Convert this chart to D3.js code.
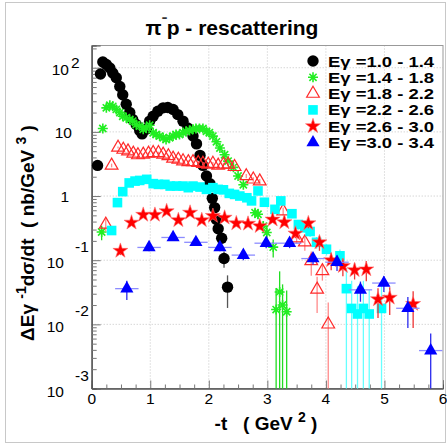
<!DOCTYPE html>
<html>
<head>
<meta charset="utf-8">
<script src="https://cdn.jsdelivr.net/npm/d3@7"></script>
<style>
  body { margin: 0; background: #fff; }
  svg { font-family: "Liberation Sans", Arial, sans-serif; }
</style>
</head>
<body>
<div id="chart"></div>
<script>
// Eγ = 1.0 - 1.4 (black circles)
const blackT = [0.10, 0.15, 0.19, 0.25, 0.31, 0.36, 0.42, 0.48, 0.53, 0.59, 0.65, 0.70, 0.76, 0.82, 0.86, 0.93, 0.99, 1.05, 1.13, 1.22, 1.30, 1.39, 1.47, 1.56, 1.64, 1.73, 1.79, 1.85, 1.90, 1.96, 2.02, 2.06, 2.10, 2.13, 2.16, 2.22, 2.26, 2.32];
const blackV = [3.0, 80, 123, 112, 99, 83, 70, 51, 38, 27, 20, 15.6, 13, 10.5, 9.3, 11, 14.7, 17.5, 21, 23.7, 24, 22.3, 18.6, 14.7, 11.5, 8.6, 6.5, 4.3, 3.0, 2.05, 1.55, 0.92, 0.66, 0.43, 0.31, 0.22, 0.106, 0.038];
const blackE = [0.2, 2, 3, 3, 3, 2, 2, 2, 1.5, 1, 1, 0.8, 0.6, 0.5, 0.5, 0.5, 0.6, 0.7, 0.8, 0.9, 0.9, 0.9, 0.8, 0.7, 0.6, 0.4, 0.3, 0.2, 0.15, 0.1, 0.1, 0.06, 0.05, 0.04, 0.04, 0.03, 0.03, 0.02];

// Eγ = 1.4 - 1.8 (green asterisks)
const greenT = [0.17, 0.19, 0.25, 0.31, 0.36, 0.42, 0.48, 0.53, 0.59, 0.65, 0.70, 0.76, 0.82, 0.88, 0.93, 0.99, 1.05, 1.10, 1.16, 1.22, 1.27, 1.33, 1.39, 1.44, 1.50, 1.56, 1.61, 1.67, 1.73, 1.78, 1.84, 1.90, 1.96, 2.01, 2.07, 2.13, 2.19, 2.27, 2.33, 2.42, 2.50, 2.59, 2.79, 2.84, 2.93, 2.99, 3.10, 3.15, 3.21, 3.26, 3.33];
const greenV = [0.275, 11.3, 23.7, 26, 25, 22.4, 20, 17.5, 16.6, 15.6, 14.7, 13, 12.3, 11, 11.5, 12.7, 9.7, 9.1, 8.6, 8.1, 7.6, 8.1, 8.6, 9.1, 9.1, 9.7, 10.2, 10.5, 11, 11.3, 11.3, 11.3, 10.2, 9.7, 8.6, 7.0, 5.6, 4.4, 3.5, 2.8, 2.05, 1.5, 0.55, 0.52, 0.34, 0.27, 0.16, 0.017, 0.032, 0.020, 0.0157];
const greenE = [0.07, 1, 1, 1, 1, 1, 0.8, 0.7, 0.6, 0.6, 0.5, 0.5, 0.5, 0.4, 0.4, 0.5, 0.4, 0.4, 0.4, 0.4, 0.4, 0.4, 0.4, 0.4, 0.4, 0.4, 0.4, 0.4, 0.4, 0.4, 0.4, 0.4, 0.4, 0.4, 0.4, 0.3, 0.3, 0.3, 0.2, 0.2, 0.15, 0.1, 0.08, 0.08, 0.06, 0.06, 0.05, 0.02, 0.035, 0.022, 0.018];

// Eγ = 1.8 - 2.2 (red open triangles)
const redTriT = [0.24, 0.34, 0.45, 0.54, 0.62, 0.71, 0.79, 0.88, 0.97, 1.05, 1.14, 1.22, 1.31, 1.39, 1.48, 1.56, 1.65, 1.73, 1.82, 1.90, 1.99, 2.07, 2.16, 2.25, 2.33, 2.44, 2.64, 2.76, 2.87, 3.27, 3.50, 3.64, 3.75, 3.85, 3.94, 4.04];
const redTriV = [0.36, 3.0, 5.7, 5.3, 5.0, 4.6, 4.35, 4.45, 4.6, 4.7, 4.7, 4.45, 4.2, 3.85, 3.7, 3.5, 3.4, 3.4, 3.3, 3.2, 3.1, 3.2, 3.0, 3.1, 3.1, 2.85, 2.05, 1.82, 1.7, 0.58, 0.22, 0.19, 0.097, 0.035, 0.068, 0.010];
const redTriE = [0.08, 0.2, 0.2, 0.2, 0.2, 0.2, 0.2, 0.2, 0.2, 0.2, 0.2, 0.2, 0.2, 0.2, 0.2, 0.2, 0.2, 0.2, 0.2, 0.2, 0.2, 0.2, 0.2, 0.2, 0.2, 0.2, 0.15, 0.15, 0.15, 0.08, 0.04, 0.05, 0.04, 0.02, 0.02, 0.012];

// Eγ = 2.2 - 2.6 (cyan squares)
const cyanT = [0.34, 0.44, 0.53, 0.64, 0.74, 0.82, 0.94, 1.05, 1.14, 1.25, 1.34, 1.45, 1.56, 1.65, 1.73, 1.85, 1.96, 2.07, 2.16, 2.25, 2.35, 2.44, 2.53, 2.65, 2.73, 2.84, 2.95, 3.13, 3.23, 3.42, 3.53, 3.64, 3.73, 3.84, 4.01, 4.24, 4.35, 4.44, 4.54, 4.64, 4.74, 4.95];
const cyanV = [0.29, 0.79, 1.17, 1.6, 1.71, 1.75, 1.82, 1.56, 1.52, 1.52, 1.43, 1.43, 1.43, 1.35, 1.43, 1.38, 1.27, 1.35, 1.27, 1.25, 1.1, 1.06, 1.0, 0.94, 0.84, 1.2, 0.8, 0.62, 0.84, 0.53, 0.36, 0.32, 0.28, 0.19, 0.148, 0.117, 0.036, 0.0177, 0.0145, 0.0177, 0.0145, 0.0177];
const cyanE = [0.04, 0.06, 0.08, 0.1, 0.1, 0.1, 0.1, 0.1, 0.1, 0.1, 0.1, 0.1, 0.1, 0.1, 0.1, 0.1, 0.1, 0.1, 0.1, 0.1, 0.1, 0.1, 0.1, 0.1, 0.1, 0.1, 0.1, 0.08, 0.1, 0.08, 0.06, 0.05, 0.05, 0.04, 0.03, 0.03, 0.04, 0.03, 0.025, 0.03, 0.02, 0.025];

// Eγ = 2.6 - 3.0 (red stars)
const starT = [0.49, 0.68, 0.88, 1.08, 1.28, 1.48, 1.68, 1.88, 2.07, 2.27, 2.47, 2.67, 2.87, 3.09, 3.29, 3.48, 3.70, 3.89, 4.09, 4.29, 4.49, 4.69, 4.89, 5.09, 5.49];
const starV = [0.14, 0.385, 0.51, 0.51, 0.58, 0.42, 0.55, 0.42, 0.49, 0.46, 0.376, 0.37, 0.34, 0.43, 0.39, 0.26, 0.376, 0.19, 0.10, 0.081, 0.07, 0.072, 0.0246, 0.026, 0.0208];
const starE = [0.02, 0.04, 0.04, 0.04, 0.04, 0.04, 0.04, 0.04, 0.04, 0.04, 0.04, 0.04, 0.04, 0.05, 0.05, 0.04, 0.06, 0.05, 0.03, 0.025, 0.02, 0.025, 0.012, 0.012, 0.012];

// Eγ = 3.0 - 3.4 (blue triangles, bins of 0.4)
const blueT = [0.60, 0.98, 1.39, 1.78, 2.19, 2.59, 2.98, 3.38, 3.78, 4.19, 4.59, 4.99, 5.40, 5.79];
const blueV = [0.036, 0.158, 0.226, 0.19, 0.158, 0.12, 0.184, 0.184, 0.106, 0.093, 0.0345, 0.044, 0.0178, 0.0039];
const blueE = [0.012, 0.02, 0.025, 0.02, 0.02, 0.02, 0.03, 0.03, 0.02, 0.025, 0.012, 0.012, 0.009, 0.0033];
const blueHalfBin = 0.2;

const legendLabels = ['1.0 - 1.4', '1.4 - 1.8', '1.8 - 2.2', '2.2 - 2.6', '2.6 - 3.0', '3.0 - 3.4'];
const xTicks = [0, 1, 2, 3, 4, 5, 6];
const yExps = [-3, -2, -1, 0, 1, 2];

const width = 447;
const height = 444;

const x = d3.scaleLinear().domain([0, 6]).range([91.7, 443]);
const y = d3.scaleLog().domain([1e-3, 222]).range([388.5, 45.5]);
const yMin = 1e-3;

const svg = d3.select('#chart').append('svg')
  .attr('width', width)
  .attr('height', height);

// outer canvas border
svg.append('rect')
  .attr('x', 5.5).attr('y', 2.5)
  .attr('width', 440).attr('height', 440)
  .attr('fill', 'none').attr('stroke', '#c8c8c8');

// grid
const grid = svg.append('g')
  .attr('stroke', '#c4c4c4')
  .attr('stroke-dasharray', '1,2');
grid.selectAll('.gx').data(xTicks.slice(1, -1)).enter().append('line')
  .attr('x1', d => x(d)).attr('x2', d => x(d))
  .attr('y1', y.range()[0]).attr('y2', y.range()[1]);
grid.selectAll('.gy').data(yExps.slice(1)).enter().append('line')
  .attr('x1', x.range()[0]).attr('x2', x.range()[1])
  .attr('y1', d => y(Math.pow(10, d))).attr('y2', d => y(Math.pow(10, d)));

// frame
svg.append('rect')
  .attr('x', x.range()[0]).attr('y', y.range()[1])
  .attr('width', x.range()[1] - x.range()[0])
  .attr('height', y.range()[0] - y.range()[1])
  .attr('fill', 'none').attr('stroke', '#999');

// x axis: inward ticks
const xMinor = d3.range(0, 6.001, 0.25).filter(d => !xTicks.includes(d));
const xAxisG = svg.append('g').attr('transform', `translate(0,${y.range()[0]})`);
xAxisG.call(d3.axisBottom(x).tickValues(xTicks).tickSize(-8).tickFormat(''));
xAxisG.append('g').call(d3.axisBottom(x).tickValues(xMinor).tickSize(-4).tickFormat(''));
xAxisG.selectAll('.domain').attr('stroke', '#555');
xAxisG.selectAll('line').attr('stroke', '#777');

svg.append('g').selectAll('text').data(xTicks).enter().append('text')
  .attr('x', d => x(d)).attr('y', y.range()[0] + 15.5)
  .attr('text-anchor', 'middle')
  .attr('font-size', 15.5)
  .text(d => d);

// y axis
const yMinor = [];
yExps.slice(0, -1).forEach(e => {
  for (let k = 2; k <= 9; k++) yMinor.push(k * Math.pow(10, e));
});
yMinor.push(200);
const yAxisG = svg.append('g').attr('transform', `translate(${x.range()[0]},0)`);
yAxisG.call(d3.axisLeft(y).tickValues(yExps.map(e => Math.pow(10, e))).tickSize(-9).tickFormat(''));
yAxisG.append('g').call(d3.axisLeft(y).tickValues(yMinor).tickSize(-5).tickFormat(''));
yAxisG.selectAll('.domain').attr('stroke', '#555');
yAxisG.selectAll('line').attr('stroke', '#777');

const yLab = svg.append('g').attr('font-size', 15.5);
yExps.forEach(e => {
  const py = y(Math.pow(10, e));
  if (e === 0) {
    yLab.append('text').attr('x', 69).attr('y', py + 6).attr('text-anchor', 'end').text('1');
  } else if (e === 1) {
    yLab.append('text').attr('x', 72).attr('y', py + 6).attr('text-anchor', 'end').text('10');
  } else if (e > 1) {
    yLab.append('text').attr('x', 69).attr('y', py + 7).attr('text-anchor', 'end').text('10');
    yLab.append('text').attr('x', 71).attr('y', py).text(e);
  } else {
    yLab.append('text').attr('x', 64).attr('y', py + 8).attr('text-anchor', 'end').text('10');
    yLab.append('text').attr('x', 75).attr('y', py - 8).text(e);
  }
});

// titles
const title = svg.append('text')
  .attr('x', 232).attr('y', 35)
  .attr('text-anchor', 'middle')
  .attr('font-size', 21).attr('font-weight', 'bold');
title.append('tspan').text('π');
title.append('tspan').attr('dy', -8).attr('font-size', 15).text('⁻');
title.append('tspan').attr('dy', 8).text('p - rescattering');

const xTitle = svg.append('text')
  .attr('x', 266).attr('y', 430)
  .attr('text-anchor', 'middle')
  .attr('font-size', 19).attr('font-weight', 'bold')
  .attr('xml:space', 'preserve');
xTitle.append('tspan').text('-t   ( GeV ');
xTitle.append('tspan').attr('dy', -8).attr('font-size', 14).text('2');
xTitle.append('tspan').attr('dy', 8).text(' )');

const yTitle = svg.append('text')
  .attr('transform', 'translate(34,233) rotate(-90)')
  .attr('text-anchor', 'middle')
  .attr('font-size', 19).attr('font-weight', 'bold')
  .attr('xml:space', 'preserve');
yTitle.append('tspan').text('ΔEγ ');
yTitle.append('tspan').attr('dy', -8).attr('font-size', 14).text('-1');
yTitle.append('tspan').attr('dy', 8).text('dσ/dt  ( nb/GeV ');
yTitle.append('tspan').attr('dy', -8).attr('font-size', 14).text('3');
yTitle.append('tspan').attr('dy', 8).text(' )');

// markers
const asterisk = 'M-5,0L5,0M0,-5L0,5M-3.6,-3.6L3.6,3.6M-3.6,3.6L3.6,-3.6';
const series = [
  { t: blackT, v: blackV, e: blackE, bar: '#555', draw: g => g.append('circle').attr('r', 5.7).attr('fill', '#000') },
  { t: greenT, v: greenV, e: greenE, bar: '#22dd22', draw: g => g.append('path').attr('d', asterisk).attr('stroke', '#22ee22').attr('stroke-width', 1.6).attr('fill', 'none') },
  { t: redTriT, v: redTriV, e: redTriE, bar: '#ff8a8a', draw: g => g.append('path').attr('d', d3.symbol(d3.symbolTriangle, 70)()).attr('fill', 'none').attr('stroke', '#ff2a2a').attr('stroke-width', 1.2) },
  { t: cyanT, v: cyanV, e: cyanE, bar: '#66ffff', draw: g => g.append('rect').attr('x', -4.8).attr('y', -4.8).attr('width', 9.6).attr('height', 9.6).attr('fill', '#00ffff') },
  { t: starT, v: starV, e: starE, bar: '#ee3333', draw: g => g.append('path').attr('d', d3.symbol(d3.symbolStar, 70)()).attr('fill', '#ff0000').attr('stroke', '#ff7070').attr('stroke-width', 0.6) },
  { t: blueT, v: blueV, e: blueE, bar: '#2a2aee', hbar: '#8c8cff', draw: g => g.append('path').attr('d', d3.symbol(d3.symbolTriangle, 75)()).attr('fill', '#0000ff') }
];

series.forEach(s => {
  const g = svg.append('g');
  const pts = s.t.map((t, i) => ({ t: t, v: s.v[i], e: s.e[i] }));
  if (s.hbar) {
    g.selectAll('.hb').data(pts).enter().append('line')
      .attr('x1', d => x(d.t - blueHalfBin)).attr('x2', d => x(d.t + blueHalfBin))
      .attr('y1', d => y(d.v)).attr('y2', d => y(d.v))
      .attr('stroke', s.hbar).attr('stroke-width', 1.3);
  }
  g.selectAll('.vb').data(pts).enter().append('line')
    .attr('x1', d => x(d.t)).attr('x2', d => x(d.t))
    .attr('y1', d => y(Math.max(d.v - d.e, yMin)))
    .attr('y2', d => y(d.v + d.e))
    .attr('stroke', s.bar).attr('stroke-width', 1.3);
  const m = g.selectAll('.m').data(pts).enter().append('g')
    .attr('transform', d => `translate(${x(d.t)},${y(d.v)})`);
  m.each(function () { s.draw(d3.select(this)); });
});

// legend
const legend = svg.append('g');
legendLabels.forEach((lab, i) => {
  const ly = 61 + i * 16.3;
  const mg = legend.append('g').attr('transform', `translate(313,${ly})`);
  series[i].draw(mg);
  legend.append('text')
    .attr('x', 328).attr('y', ly + 5.5)
    .attr('font-size', 14.5).attr('font-weight', 'bold')
    .attr('textLength', 106).attr('lengthAdjust', 'spacingAndGlyphs')
    .text('Eγ =' + lab);
});
</script>
</body>
</html>
